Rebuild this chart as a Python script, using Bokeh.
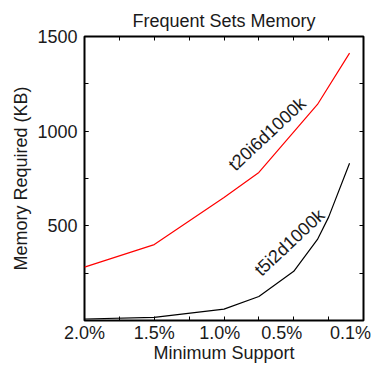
from bokeh.plotting import figure
from bokeh.models import LinearAxis, FixedTicker, Range1d, Label
from bokeh.embed import file_html
from bokeh.resources import INLINE

# ---- data ----
support_t5 = [2.0, 1.5, 1.0, 0.75, 0.5, 0.33, 0.25, 0.1]
memory_t5 = [8, 17, 60, 127, 260, 428, 546, 831]

support_t20 = [2.0, 1.5, 1.0, 0.75, 0.33, 0.1]
memory_t20 = [282, 401, 650, 782, 1141, 1412]

x_tick_labels = ["2.0%", "1.5%", "1.0%", "0.5%", "0.1%"]
x_label_pos = [2.0, 1.5, 1.03, 0.586, 0.093]
x_tick_marks = [0.0, 0.25, 0.5, 0.75, 1.0, 1.25, 1.5, 1.75, 2.0]
y_tick_labels_at = [500, 1000, 1500]
y_tick_marks = [0, 250, 500, 750, 1000, 1250, 1500]

FONT = "Liberation Sans"
FS = "18px"
TXT = "#1a1a1a"

p = figure(width=373, height=365,
           x_range=Range1d(2.0, 0.0), y_range=Range1d(0, 1500),
           output_backend="svg", toolbar_location=None,
           title="Frequent Sets Memory",
           min_border_left=84, min_border_right=10,
           min_border_top=36, min_border_bottom=45)

p.title.text_font = FONT
p.title.text_font_size = FS
p.title.text_font_style = "normal"
p.title.align = "center"
p.title.vertical_align = "top"
p.title.text_color = TXT
p.title.standoff = 8

p.grid.visible = False
p.background_fill_color = "white"
p.border_fill_color = "white"
p.outline_line_color = "black"
p.outline_line_width = 2
p.outline_line_alpha = 1.0

# bottom axis
xa = p.xaxis[0]
xa.ticker = FixedTicker(ticks=x_label_pos, minor_ticks=x_tick_marks)
xa.major_label_overrides = {pos: lab for pos, lab in zip(x_label_pos, x_tick_labels)}
xa.axis_line_color = None
xa.major_tick_in = 0
xa.major_tick_out = 0
xa.minor_tick_in = 4
xa.minor_tick_out = 0
xa.minor_tick_line_color = "black"
xa.minor_tick_line_width = 1
xa.major_label_standoff = 2
xa.major_label_text_font = FONT
xa.major_label_text_font_size = FS
xa.major_label_text_color = TXT
xa.axis_label = "Minimum Support"
xa.axis_label_text_font = FONT
xa.axis_label_text_font_size = FS
xa.axis_label_text_font_style = "normal"
xa.axis_label_text_color = TXT
xa.axis_label_standoff = -3

# left axis
ya = p.yaxis[0]
ya.ticker = FixedTicker(ticks=y_tick_labels_at, minor_ticks=y_tick_marks)
ya.axis_line_color = None
ya.major_tick_in = 4
ya.major_tick_out = 0
ya.minor_tick_in = 4
ya.minor_tick_out = 0
ya.major_tick_line_color = "black"
ya.minor_tick_line_color = "black"
ya.major_label_standoff = 7
ya.major_label_text_font = FONT
ya.major_label_text_font_size = FS
ya.major_label_text_color = TXT
ya.axis_label = "Memory Required (KB)"
ya.axis_label_text_font = FONT
ya.axis_label_text_font_size = FS
ya.axis_label_text_font_style = "normal"
ya.axis_label_text_color = TXT
ya.axis_label_standoff = 3

# right and top: tick marks only (minor ticks, no labels)
ra = LinearAxis(ticker=FixedTicker(ticks=[], minor_ticks=y_tick_marks), axis_line_color=None,
                major_tick_in=0, major_tick_out=0, minor_tick_in=4, minor_tick_out=0,
                minor_tick_line_color="black")
p.add_layout(ra, "right")
ta = LinearAxis(ticker=FixedTicker(ticks=[], minor_ticks=x_tick_marks), axis_line_color=None,
                major_tick_in=0, major_tick_out=0, minor_tick_in=4, minor_tick_out=0,
                minor_tick_line_color="black")
p.add_layout(ta, "above")

# lines
p.line(support_t20, memory_t20, line_color="#ff0000", line_width=1.2)
p.line(support_t5, memory_t5, line_color="black", line_width=1.2)

# in-plot series labels
p.add_layout(Label(x=0.69, y=985, text="t20i6d1000k", angle=43, angle_units="deg",
                   text_align="center", text_baseline="middle",
                   text_font=FONT, text_font_size=FS, text_color=TXT))
p.add_layout(Label(x=0.53, y=412, text="t5i2d1000k", angle=43, angle_units="deg",
                   text_align="center", text_baseline="middle",
                   text_font=FONT, text_font_size=FS, text_color=TXT))

open("out.html", "w").write(file_html(p, INLINE))
